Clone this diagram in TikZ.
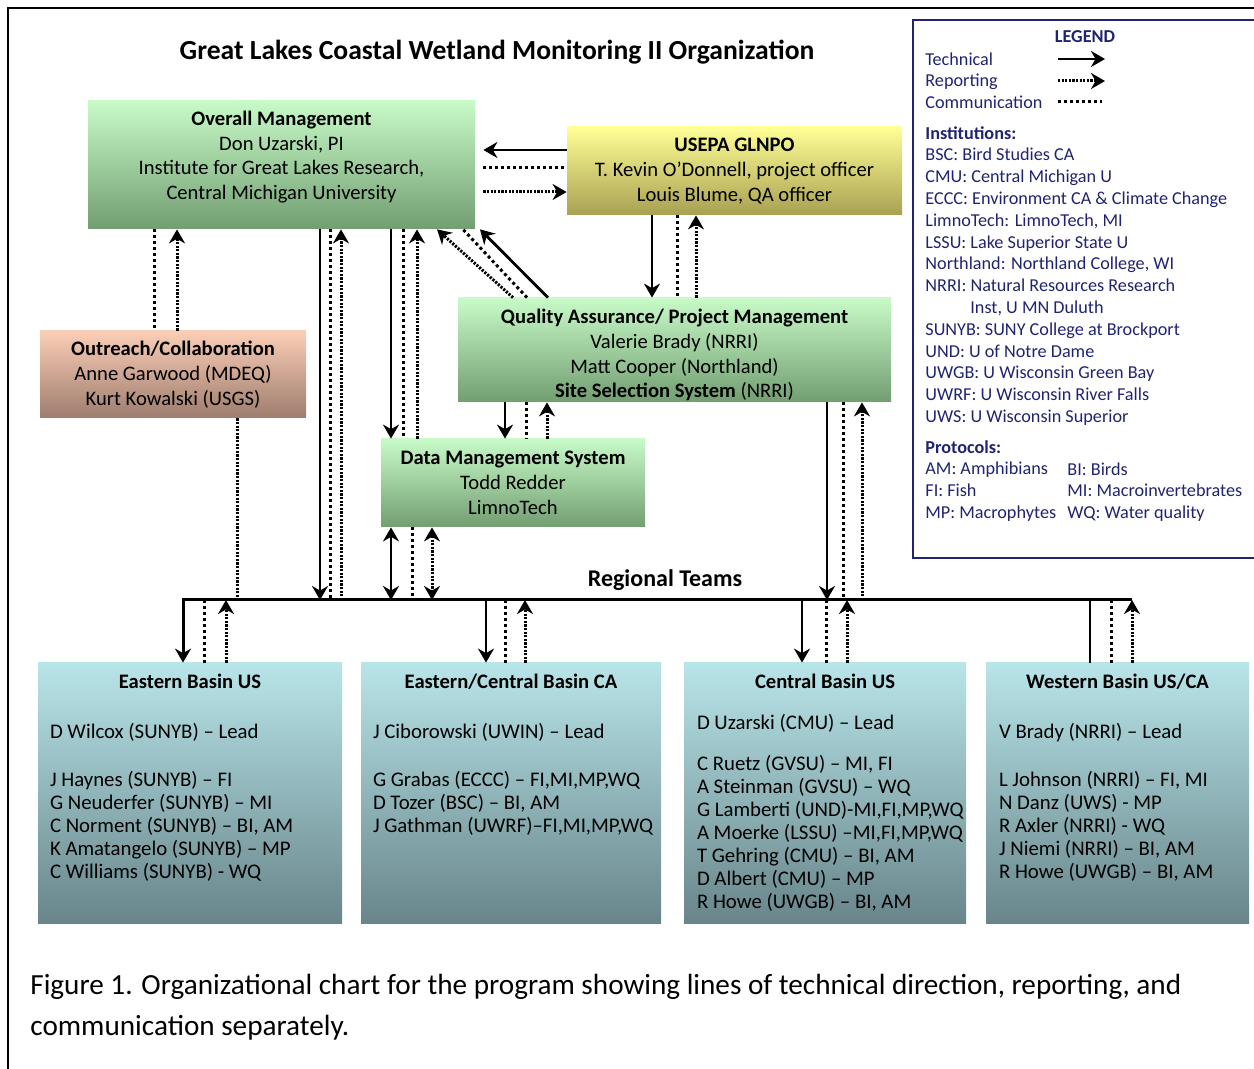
\documentclass[tikz,border=0pt]{standalone}
\usepackage{fontspec}
\setmainfont{Carlito}
\usetikzlibrary{positioning,arrows.meta}

\definecolor{mgmttop}{RGB}{200,250,200}
\definecolor{mgmtbot}{RGB}{114,158,114}
\definecolor{epatop}{RGB}{255,255,150}
\definecolor{epabot}{RGB}{168,160,82}
\definecolor{outtop}{RGB}{250,206,182}
\definecolor{outbot}{RGB}{158,124,110}
\definecolor{teamtop}{RGB}{184,229,233}
\definecolor{teambot}{RGB}{104,133,138}
\definecolor{legblue}{RGB}{32,36,112}

\tikzset{
  box/.style={inner sep=0pt, align=center, font=\fontsize{10.3}{12.4}\selectfont},
  mgmt/.style={box, top color=mgmttop, bottom color=mgmtbot},
  epabox/.style={box, top color=epatop, bottom color=epabot},
  outbox/.style={box, top color=outtop, bottom color=outbot},
  team/.style={inner sep=0pt, top color=teamtop, bottom color=teambot},
  teamhead/.style={inner sep=0pt, font=\fontsize{10.3}{12.4}\selectfont\bfseries},
  teamtext/.style={inner sep=0pt, align=left, font=\fontsize{10.4}{11.5}\selectfont},
  legbox/.style={draw=legblue, line width=1pt, inner sep=0pt},
  legtext/.style={inner sep=0pt, align=left, text=legblue, font=\fontsize{9.1}{10.9}\selectfont},
  tech/.style={line width=1.4pt},
  comm/.style={line width=1.5pt, dash pattern=on 1.5pt off 1.5pt},
  report/.style={line width=1.5pt, dash pattern=on 1.1pt off 0.7pt},
}

\begin{document}
\begin{tikzpicture}[x=0.5pt, y=-0.5pt, >={Stealth[length=7pt,width=8pt]}]
\useasboundingbox (0,0) rectangle (1254,1069);

\draw[line width=1pt] (1254,8) -- (8,8) -- (8,1069);

\node[font=\fontsize{13.8}{16}\selectfont\bfseries] (title) at (497,52) {Great Lakes Coastal Wetland Monitoring II Organization};

% management boxes
\node[mgmt, minimum width=193.5pt, minimum height=64pt] (om) at (281.5,165) {};
\node[box] (om-text) at (281.5,157) {\textbf{Overall Management}\\Don Uzarski, PI\\Institute for Great Lakes Research,\\Central Michigan University};
\node[epabox, minimum width=167.5pt, minimum height=44pt] (epa) at (734.5,171) {\textbf{USEPA GLNPO}\\T. Kevin O’Donnell, project officer\\Louis Blume, QA officer};
\node[outbox, minimum width=133pt, minimum height=43.5pt] (out) at (173,374.5) {\textbf{Outreach/Collaboration}\\Anne Garwood (MDEQ)\\Kurt Kowalski (USGS)};
\node[mgmt, minimum width=216.5pt, minimum height=52pt] (qa) at (674.5,350) {};
\node[box] (qa-text) at (674.5,355) {\textbf{Quality Assurance/ Project Management}\\Valerie Brady (NRRI)\\Matt Cooper (Northland)\\\textbf{Site Selection System} (NRRI)};
\node[mgmt, minimum width=132pt, minimum height=44pt] (dms) at (513,483) {\textbf{Data Management System}\\Todd Redder\\LimnoTech};

% regional teams
\node[font=\fontsize{12}{14}\selectfont\bfseries] (rt) at (665,580) {Regional Teams};
\coordinate (bar-w) at (183,600);
\coordinate (bar-e) at (1132,600);

\node[team, minimum width=152pt, minimum height=130pt] (eb) at (190,793) {};
\node[teamhead, below=5.5pt of eb.north] (eb-head) {Eastern Basin US};
\node[teamtext, below right=30pt and 6pt of eb.north west] (eb-list) {D Wilcox (SUNYB) – Lead\\[12.5pt]J Haynes (SUNYB) – FI\\G Neuderfer (SUNYB) – MI\\C Norment (SUNYB) – BI, AM\\K Amatangelo (SUNYB) – MP\\C Williams (SUNYB) - WQ};

\node[team, minimum width=150pt, minimum height=130pt] (ecb) at (511,793) {};
\node[teamhead, below=5.5pt of ecb.north] (ecb-head) {Eastern/Central Basin CA};
\node[teamtext, below right=30pt and 6pt of ecb.north west] (ecb-list) {J Ciborowski (UWIN) – Lead\\[12.5pt]G Grabas (ECCC) – FI,MI,MP,WQ\\D Tozer (BSC) – BI, AM\\J Gathman (UWRF)–FI,MI,MP,WQ};

\node[team, minimum width=141pt, minimum height=130pt] (cb) at (825,793) {};
\node[teamhead, below=5.5pt of cb.north] (cb-head) {Central Basin US};
\node[teamtext, below right=25.5pt and 6.5pt of cb.north west] (cb-list) {D Uzarski (CMU) – Lead\\[9pt]C Ruetz (GVSU) – MI, FI\\A Steinman (GVSU) – WQ\\G Lamberti (UND)-MI,FI,MP,WQ\\A Moerke (LSSU) –MI,FI,MP,WQ\\T Gehring (CMU) – BI, AM\\D Albert (CMU) – MP\\R Howe (UWGB) – BI, AM};

\node[team, minimum width=131.5pt, minimum height=130pt] (wb) at (1117.5,793) {};
\node[teamhead, below=5.5pt of wb.north] (wb-head) {Western Basin US/CA};
\node[teamtext, below right=30pt and 6.5pt of wb.north west] (wb-list) {V Brady (NRRI) – Lead\\[12.5pt]L Johnson (NRRI) – FI, MI\\N Danz (UWS) - MP\\R Axler (NRRI) - WQ\\J Niemi (NRRI) – BI, AM\\R Howe (UWGB) – BI, AM};

% legend
\node[legbox, anchor=north west, minimum width=177pt, minimum height=269pt] (legend) at (912,19) {};
\node[legtext, font=\fontsize{9.1}{10.9}\selectfont\bfseries] (leg-title) at (1085,37) {LEGEND};
\node[legtext, anchor=north west] (leg-kinds) at (925,52) {Technical\\Reporting\\Communication};
\coordinate (tech-from) at (1058,59);
\coordinate (tech-to) at (1105,59);
\coordinate (rep-from) at (1058,81);
\coordinate (rep-to) at (1105,81);
\coordinate (com-from) at (1058,102);
\coordinate (com-to) at (1102,102);
\draw[tech,->] (tech-from) -- (tech-to);
\draw[report,->] (rep-from) -- (rep-to);
\draw[comm] (com-from) -- (com-to);
\node[legtext, anchor=north west] (leg-inst) at (925,126) {\textbf{Institutions:}\\BSC: Bird Studies CA\\CMU: Central Michigan U\\ECCC: Environment CA \& Climate Change\\LimnoTech: LimnoTech, MI\\LSSU: Lake Superior State U\\Northland: Northland College, WI\\NRRI: Natural Resources Research\\\hspace*{22.5pt}Inst, U MN Duluth\\SUNYB: SUNY College at Brockport\\UND: U of Notre Dame\\UWGB: U Wisconsin Green Bay\\UWRF: U Wisconsin River Falls\\UWS: U Wisconsin Superior};
\node[legtext, anchor=north west] (leg-prot) at (925,440) {\textbf{Protocols:}\\AM: Amphibians\\FI: Fish\\MP: Macrophytes};
\node[legtext, anchor=north west] (leg-prot2) at (1067,462) {BI: Birds\\MI: Macroinvertebrates\\WQ: Water quality};

% usepa -- overall management
\draw[tech,->,shorten >=4pt] (epa.west |- 0,150) -- (om.east |- 0,150);
\draw[comm,shorten <=4pt] (om.east |- 0,168) -- (epa.west |- 0,168);
\draw[report,->,shorten <=4pt] (om.east |- 0,192) -- (epa.west |- 0,192);
% usepa -- qa
\draw[tech,->] (652,0 |- epa.south) -- (652,0 |- qa.north);
\draw[comm] (677,0 |- epa.south) -- (677,0 |- qa.north);
\draw[report,->] (696,0 |- qa.north) -- (696,0 |- epa.south);
% qa -- overall management
\draw[tech,->] (548,0 |- qa.north) -- (480,0 |- om.south);
\draw[comm] (527,0 |- qa.north) -- (463,0 |- om.south);
\draw[report,->] (513,0 |- qa.north) -- (437,0 |- om.south);
% overall management -- outreach
\draw[comm] (154,0 |- om.south) -- (154,0 |- out.north);
\draw[report,->] (177,0 |- out.north) -- (177,0 |- om.south);
\draw[report] (237,0 |- out.south) -- (237,0 |- bar-w);
% overall management -- regional teams
\draw[tech,->] (320,0 |- om.south) -- (320,0 |- bar-w);
\draw[comm] (330,0 |- om.south) -- (330,0 |- bar-w);
\draw[report,->] (341,0 |- bar-w) -- (341,0 |- om.south);
% overall management -- data management
\draw[tech,->] (391,0 |- om.south) -- (391,0 |- dms.north);
\draw[comm] (403,0 |- om.south) -- (403,0 |- dms.north);
\draw[report,->] (417,0 |- dms.north) -- (417,0 |- om.south);
% qa -- data management
\draw[tech,->] (505,0 |- qa.south) -- (505,0 |- dms.north);
\draw[comm] (526,0 |- qa.south) -- (526,0 |- dms.north);
\draw[report,->] (547,0 |- dms.north) -- (547,0 |- qa.south);
% data management -- regional teams
\draw[tech,<->] (391,0 |- dms.south) -- (391,0 |- bar-w);
\draw[comm] (412,0 |- dms.south) -- (412,0 |- bar-w);
\draw[report,<->] (432,0 |- dms.south) -- (432,0 |- bar-w);
% qa -- regional teams
\draw[tech,->] (827,0 |- qa.south) -- (827,0 |- bar-w);
\draw[comm] (843,0 |- qa.south) -- (843,0 |- bar-w);
\draw[report,->] (862,0 |- bar-w) -- (862,0 |- qa.south);

% regional bar -- team boxes
\draw[tech,line width=1.5pt,->] (bar-e) -- (bar-w) -- (bar-w |- eb.north);
\draw[comm] (204,0 |- bar-w) -- (204,0 |- eb.north);
\draw[report,->] (226,0 |- eb.north) -- (226,0 |- bar-w);
\draw[tech,->] (486,0 |- bar-w) -- (486,0 |- ecb.north);
\draw[comm] (505,0 |- bar-w) -- (505,0 |- ecb.north);
\draw[report,->] (525,0 |- ecb.north) -- (525,0 |- bar-w);
\draw[tech,->] (802,0 |- bar-w) -- (802,0 |- cb.north);
\draw[comm] (826,0 |- bar-w) -- (826,0 |- cb.north);
\draw[report,->] (847,0 |- cb.north) -- (847,0 |- bar-w);
\draw[tech] (1090,0 |- bar-w) -- (1090,0 |- wb.north);
\draw[comm] (1111,0 |- bar-w) -- (1111,0 |- wb.north);
\draw[report,->] (bar-e |- wb.north) -- (bar-e);

% caption
\node[inner sep=0pt, anchor=north west, align=left, font=\fontsize{14.6}{20.5}\selectfont] (caption) at (30,974) {Figure 1. Organizational chart for the program showing lines of technical direction, reporting, and\\communication separately.};

\end{tikzpicture}
\end{document}
